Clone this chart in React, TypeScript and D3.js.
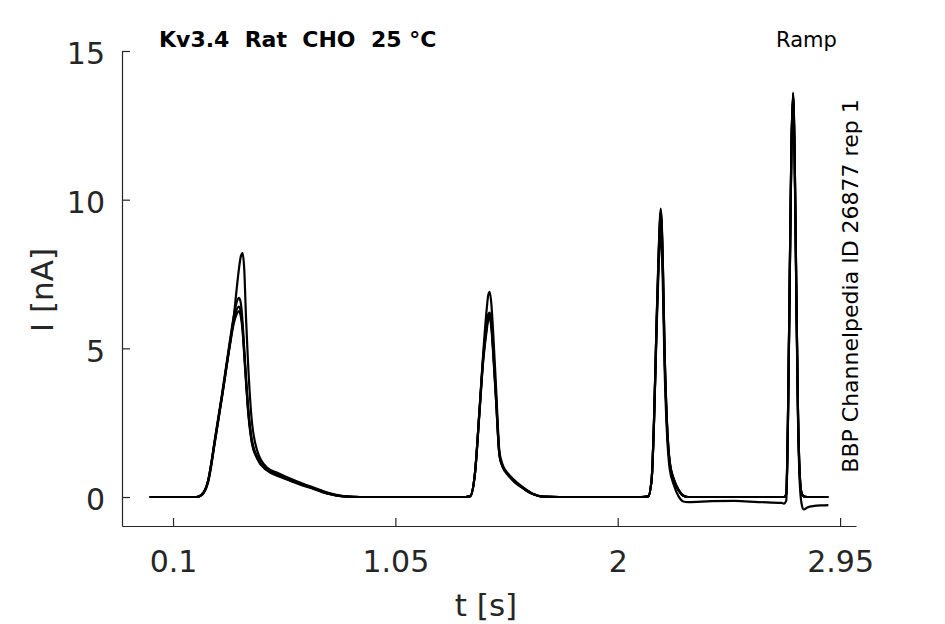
import { useEffect, useRef } from "react";
import * as d3 from "d3";

// sample times (s), shared by all sweeps
const tSec = [
  0, 0.1, 0.2,
  0.22, 0.25, 0.28, 0.31, 0.34, 0.36, 0.372, 0.382, 0.39, 0.397, 0.404, 0.412, 0.42, 0.435, 0.46, 0.5, 0.55, 0.6, 0.65, 0.7, 0.76, 0.83, 0.9,
  1.1, 1.35,
  1.37, 1.39, 1.41, 1.425, 1.44, 1.447, 1.453, 1.46, 1.468, 1.48, 1.495, 1.51, 1.53, 1.56, 1.6, 1.64, 1.68, 1.75,
  1.9, 2.1,
  2.13, 2.145, 2.155, 2.165, 2.175, 2.184, 2.192, 2.2, 2.21, 2.222, 2.24, 2.26, 2.28, 2.3, 2.4, 2.5, 2.6, 2.7,
  2.71, 2.72, 2.727, 2.735, 2.742, 2.749, 2.756, 2.763, 2.77, 2.777, 2.785, 2.795, 2.81, 2.84, 2.87, 2.9,
];

// current (nA) per sweep
const sweep1 = [
  0, 0, 0,
  0.05, 0.5, 1.9, 3.4, 5.0, 6.1, 7.0, 7.7, 8.1, 8.2, 7.7, 6.0, 4.6, 2.7, 1.55, 1.0, 0.8, 0.62, 0.46, 0.32, 0.15, 0.03, 0,
  0, 0,
  0.03, 0.8, 3.0, 4.8, 6.3, 6.8, 6.9, 6.5, 5.5, 3.7, 1.5, 1.05, 0.8, 0.55, 0.3, 0.1, 0.01, 0,
  0, 0,
  0.02, 0.6, 2.6, 5.6, 8.3, 9.7, 8.2, 5.0, 2.6, 1.2, 0.6, 0.25, 0.05, 0, 0, 0, 0, 0,
  0, 0.1, 2.5, 7.5, 11.8, 13.6, 11.5, 7.0, 3.0, 0.9, 0.15, 0.02, 0, 0, 0, 0,
];
const sweep2 = [
  0, 0, 0,
  0.06, 0.55, 2.0, 3.5, 5.1, 6.1, 6.55, 6.7, 6.5, 5.9, 5.0, 4.0, 3.1, 2.0, 1.35, 0.95, 0.75, 0.58, 0.43, 0.3, 0.13, 0.02, 0,
  0, 0,
  0.03, 0.8, 3.0, 4.7, 5.8, 6.15, 6.2, 5.9, 5.0, 3.4, 1.4, 1.0, 0.77, 0.52, 0.28, 0.09, 0.01, 0,
  0, 0,
  0.02, 0.6, 2.5, 5.3, 7.8, 8.8, 7.4, 4.4, 2.2, 0.95, 0.4, 0.02, -0.15, -0.17, -0.14, -0.13, -0.17, -0.2,
  -0.22, -0.12, 2.3, 7.3, 11.6, 13.4, 11.2, 6.7, 2.7, 0.6, -0.2, -0.42, -0.35, -0.3, -0.28, -0.27,
];
const sweep3 = [
  0, 0, 0,
  0.06, 0.55, 1.95, 3.45, 5.0, 5.95, 6.3, 6.4, 6.2, 5.7, 4.9, 3.9, 3.0, 1.95, 1.3, 0.92, 0.73, 0.56, 0.42, 0.29, 0.12, 0.02, 0,
  0, 0,
  0.03, 0.8, 2.95, 4.6, 5.7, 6.05, 6.1, 5.8, 4.9, 3.3, 1.4, 1.0, 0.76, 0.5, 0.27, 0.09, 0.01, 0,
  0, 0,
  0.02, 0.6, 2.55, 5.5, 8.1, 9.5, 8.0, 4.9, 2.5, 1.15, 0.55, 0.22, 0.04, 0, 0, 0, 0, 0,
  0, 0.1, 2.45, 7.4, 11.7, 13.5, 11.4, 6.9, 2.9, 0.85, 0.14, 0.02, 0, 0, 0, 0,
];
const sweep4 = [
  0, 0, 0,
  0.06, 0.55, 1.95, 3.4, 4.95, 5.85, 6.15, 6.25, 6.05, 5.6, 4.8, 3.85, 2.95, 1.9, 1.28, 0.9, 0.7, 0.55, 0.4, 0.27, 0.11, 0.02, 0,
  0, 0,
  0.03, 0.78, 2.9, 4.55, 5.6, 5.95, 6.0, 5.7, 4.8, 3.25, 1.38, 0.98, 0.75, 0.5, 0.27, 0.09, 0.01, 0,
  0, 0,
  0.02, 0.6, 2.55, 5.55, 8.2, 9.6, 8.1, 4.95, 2.55, 1.18, 0.57, 0.23, 0.04, 0, 0, 0, 0, 0,
  0, 0.1, 2.48, 7.45, 11.75, 13.55, 11.45, 6.95, 2.95, 0.88, 0.15, 0.02, 0, 0, 0, 0,
];
const sweeps = [sweep1, sweep2, sweep3, sweep4];

const xTicks = [0.1, 1.05, 2, 2.95];
const yTicks = [0, 5, 10, 15];
const xDomain = [-0.118, 3.018];
const yDomain = [-0.975, 15];

const title = "Kv3.4  Rat  CHO  25 °C";
const protocol = "Ramp";
const sideNote = "BBP Channelpedia ID 26877 rep 1";

const W = 945;
const H = 624;
const font = "DejaVu Sans, sans-serif";
const axisColor = "#262626";

export default function App() {
  const ref = useRef<SVGSVGElement>(null);

  useEffect(() => {
    const svg = d3.select(ref.current!);
    svg.selectAll("*").remove();

    const x = d3.scaleLinear().domain(xDomain).range([122, 856]);
    const y = d3.scaleLinear().domain(yDomain).range([526, 51]);

    const line = d3
      .line<number>()
      .x((_, i) => x(tSec[i]))
      .y((d) => y(d))
      .curve(d3.curveMonotoneX);

    svg
      .append("g")
      .selectAll("path")
      .data(sweeps)
      .join("path")
      .attr("d", (d) => line(d))
      .attr("fill", "none")
      .attr("stroke", "#000")
      .attr("stroke-width", 2.2)
      .attr("stroke-linejoin", "round");

    const yAxis = svg
      .append("g")
      .attr("transform", "translate(122,0)")
      .call(
        d3
          .axisLeft(y)
          .tickValues(yTicks)
          .tickFormat(d3.format("d"))
          .tickSizeInner(-8)
          .tickSizeOuter(0)
          .tickPadding(17)
      );

    const xAxis = svg
      .append("g")
      .attr("transform", "translate(0,526)")
      .call(
        d3
          .axisBottom(x)
          .tickValues(xTicks)
          .tickFormat((d) => String(d))
          .tickSizeInner(-8)
          .tickSizeOuter(0)
          .tickPadding(25)
      );

    for (const g of [xAxis, yAxis]) {
      g.select(".domain").attr("stroke", axisColor).attr("stroke-width", 1.2);
      g.selectAll(".tick line").attr("stroke", axisColor).attr("stroke-width", 1.2);
      g.selectAll(".tick text")
        .attr("fill", axisColor)
        .style("font-family", font)
        .style("font-size", "30px");
      g.attr("font-family", null).attr("font-size", null);
    }
    yAxis.selectAll(".tick text").attr("dy", "0.43em");

    svg
      .append("text")
      .attr("x", 486)
      .attr("y", 616)
      .attr("text-anchor", "middle")
      .attr("fill", axisColor)
      .style("font-family", font)
      .style("font-size", "31px")
      .text("t [s]");

    svg
      .append("text")
      .attr("transform", "translate(53,290) rotate(-90)")
      .attr("text-anchor", "middle")
      .attr("fill", axisColor)
      .style("font-family", font)
      .style("font-size", "31px")
      .text("I [nA]");

    svg
      .append("text")
      .attr("x", 159)
      .attr("y", 47)
      .attr("fill", "#000")
      .style("font-family", font)
      .style("font-weight", "bold")
      .style("font-size", "22px")
      .style("white-space", "pre")
      .text(title);

    svg
      .append("text")
      .attr("x", 776)
      .attr("y", 47)
      .attr("fill", "#000")
      .style("font-family", font)
      .style("font-size", "21px")
      .text(protocol);

    svg
      .append("text")
      .attr("transform", "translate(858,286) rotate(-90)")
      .attr("text-anchor", "middle")
      .attr("fill", "#000")
      .style("font-family", font)
      .style("font-size", "22px")
      .text(sideNote);
  }, []);

  return (
    <svg
      ref={ref}
      width={W}
      height={H}
      style={{ position: "absolute", left: 0, top: 0, background: "#fff" }}
    />
  );
}
